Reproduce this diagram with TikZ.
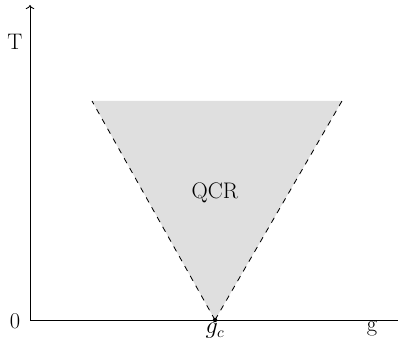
\documentclass[tikz,border=0pt]{standalone}
\usepackage{tikz}
\usetikzlibrary{arrows.meta}

\begin{document}
\begin{tikzpicture}[
  axis/.style={->, line width=0.6pt},
  crit/.style={dash pattern=on 4pt off 4pt, line width=0.6pt},
  lbl/.style={font=\fontsize{16}{19}\selectfont, inner sep=1pt}
]
\useasboundingbox (0,0) rectangle (9.95,8.525);
% axes
\coordinate (o) at (0.75,0.525);
\coordinate (ytop) at (0.75,8.4);
\coordinate (xend) at (10.2,0.525);
% critical fan
\coordinate (gc) at (5.375,0.525);
\coordinate (tl) at (2.3,6.0);
\coordinate (tr) at (8.55,6.0);
\fill[gray!25] (tl) -- (tr) -- (gc) -- cycle;
\draw[crit] (gc) -- (tl);
\draw[crit] (gc) -- (tr);
\draw[axis] (o) -- (ytop);
\draw[axis] (o) -- (xend);
\fill (gc) circle (1.6pt);
\node[lbl] (qcr) at (5.375,3.7) {QCR};
\node[lbl] (tlab) at (0.375,7.475) {T};
\node[lbl] (zero) at (0.375,0.5) {0};
\node[lbl] (glab) at (9.3,0.3) {g};
\node[lbl] (gclab) at (5.375,0.25) {$g_c$};
\end{tikzpicture}
\end{document}
